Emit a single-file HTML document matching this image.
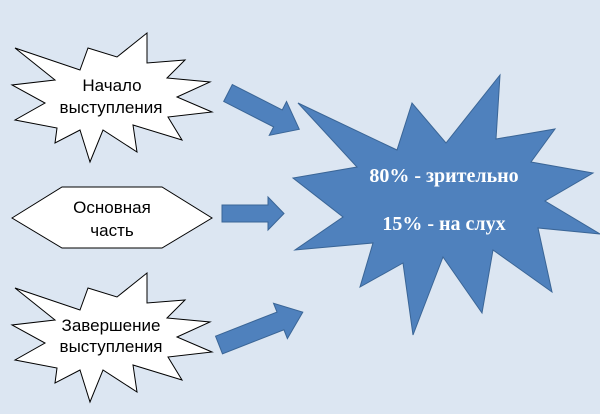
<!DOCTYPE html>
<html><head><meta charset="utf-8"><style>
html,body{margin:0;padding:0;background:#dce6f2;}
svg{display:block}
.s{font-family:"Liberation Sans","DejaVu Sans",sans-serif;font-size:17px;fill:#000;text-anchor:middle}
.b{font-family:"Liberation Serif",serif;font-size:20px;font-weight:bold;fill:#fff;text-anchor:middle}
</style></head><body>
<svg width="600" height="414" viewBox="0 0 600 414">
<rect width="600" height="414" fill="#dce6f2"/>
<g fill="#fff" stroke="#000" stroke-width="1">
<polygon points="15,48 55,80 12,85 45,103 15,120 57,128 55,143 80,130 90,162 103,130 137,152 133,125 182,140 168,117 212,112 177,97 210,82 167,78 185,60 147,63 147,33 117,57 88,48 80,70"/>
</g>
<g transform="translate(0,240)" fill="#fff" stroke="#000" stroke-width="1">
<polygon points="15,48 55,80 12,85 45,103 15,120 57,128 55,143 80,130 90,162 103,130 137,152 133,125 182,140 168,117 212,112 177,97 210,82 167,78 185,60 147,63 147,33 117,57 88,48 80,70"/>
</g>
<polygon points="12,218 62,187 162,187 212,218 162,248 62,248" fill="#fff" stroke="#000" stroke-width="1"/>
<text class="s" x="112" y="91">Начало</text>
<text class="s" x="111" y="113">выступления</text>
<text class="s" x="112" y="213">Основная</text>
<text class="s" x="112" y="236">часть</text>
<text class="s" x="111" y="331">Завершение</text>
<text class="s" x="111" y="352">выступления</text>
<g fill="#4f81bd" stroke="#3a6596" stroke-width="1">
<polygon points="298,103 357,167 293,178 343,217 295,250 373,243 360,287 403,263 413,335 443,257 482,313 493,250 552,292 538,228 600,234 545,201 593,173 531,162 555,129 496,139 500,75 446,143 412,103 397,150"/>
<path transform="translate(228,93) rotate(27)" d="M0,-9.5 L56,-9.5 L56,-19 L80,0 L56,19 L56,9.5 L0,9.5 Z"/>
<path transform="translate(222,213.5)" d="M0,-8.5 L46,-8.5 L46,-16.5 L62,0 L46,16.5 L46,8.5 L0,8.5 Z"/>
<path transform="translate(219,345) rotate(-21.4)" d="M0,-9.5 L66,-9.5 L66,-19 L90,0 L66,19 L66,9.5 L0,9.5 Z"/>
</g>
<text class="b" x="444" y="182">80% - зрительно</text>
<text class="b" x="444" y="230">15% - на слух</text>
</svg>
</body></html>
